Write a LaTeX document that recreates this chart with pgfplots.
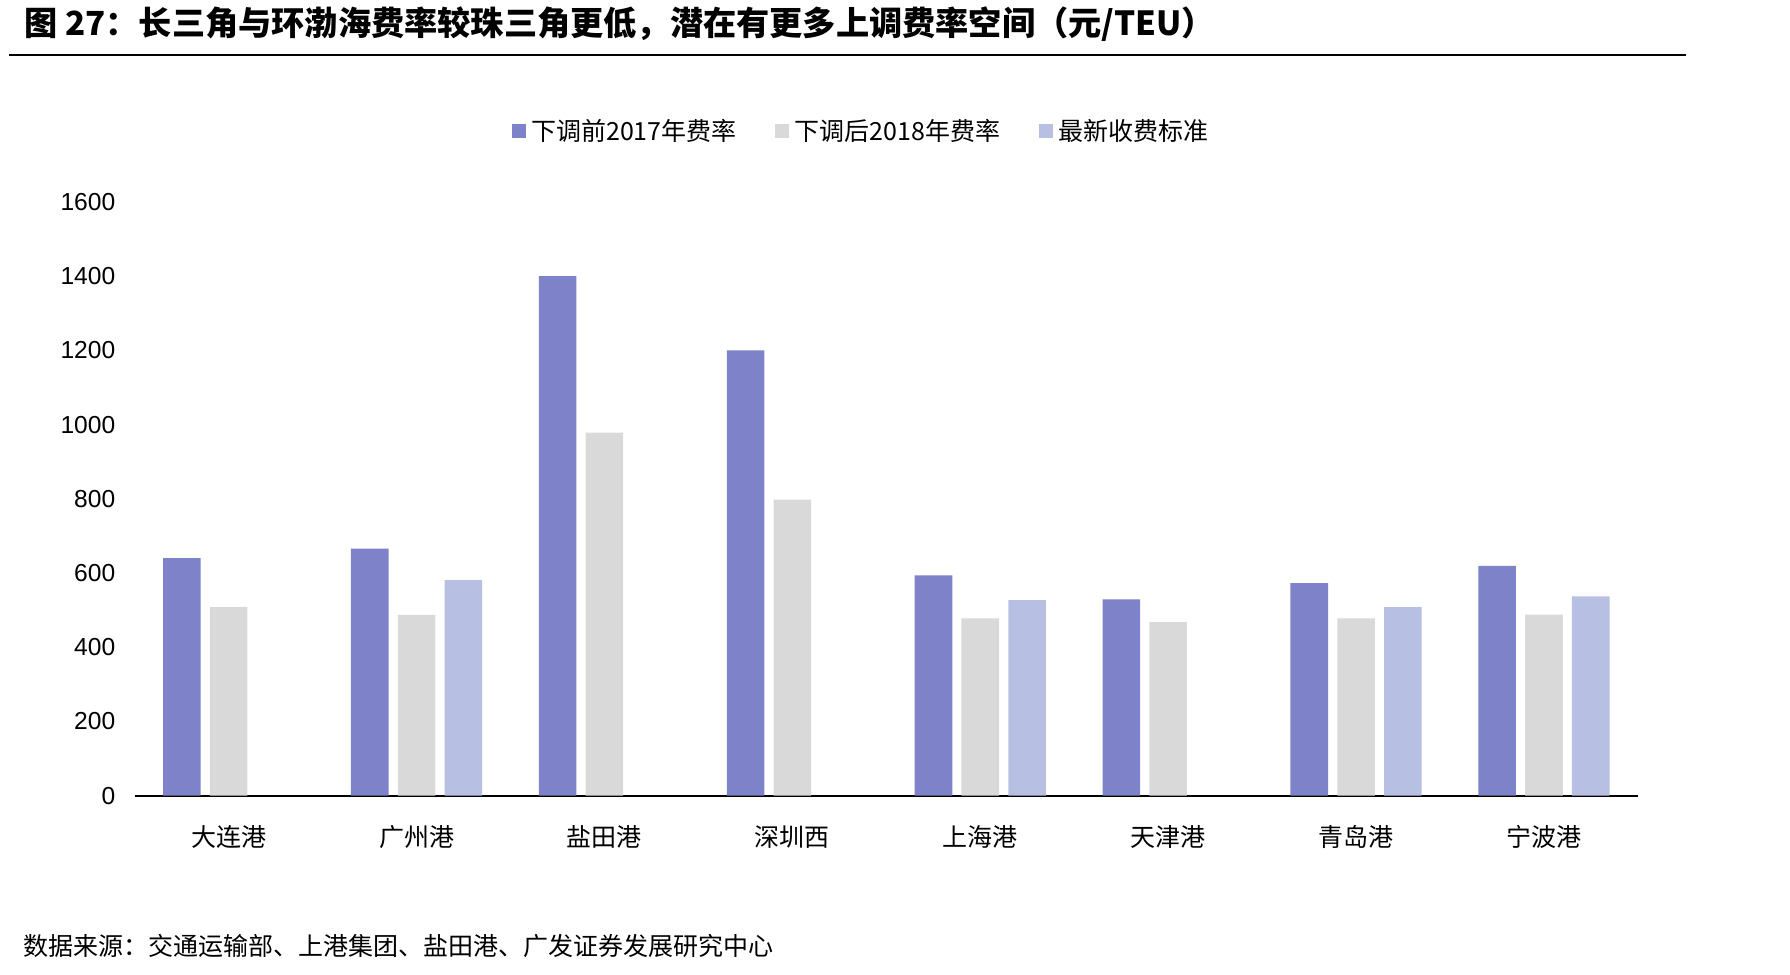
\documentclass[border=0pt]{standalone}
\usepackage{pgfplots}
\pgfplotsset{compat=1.18}
\usepackage{fontspec}
\setmainfont{Noto Sans CJK SC}
\newfontfamily\arial{Liberation Sans}
\definecolor{cA}{RGB}{126,130,200}
\definecolor{cB}{RGB}{217,217,217}
\definecolor{cC}{RGB}{183,191,227}
\begin{document}
\begin{tikzpicture}
\useasboundingbox (0,0) rectangle (895pt,-487.5pt);
\node[anchor=west, font=\fontsize{16.6pt}{19pt}\selectfont\bfseries, inner sep=0] at (12pt,-12pt) {图\ 27：长三角与环渤海费率较珠三角更低，潜在有更多上调费率空间（元/TEU）};
\draw[line width=1pt] (4.5pt,-27.5pt) -- (843pt,-27.5pt);
\begin{axis}[
  at={(67.35pt,-397.85pt)}, anchor=south west,
  scale only axis, width=751.6pt, height=296.9pt,
  xmin=-0.5, xmax=7.5, ymin=0, ymax=1600,
  xtick={0,...,7},
  xticklabels={大连港,广州港,盐田港,深圳西,上海港,天津港,青岛港,宁波港},
  ytick={0,200,...,1600},
  axis x line*=bottom, axis y line*=left,
  y axis line style={draw=none},
  x axis line style={line width=0.9pt, black},
  major tick length=0pt,
  /pgf/number format/assume math mode=true,
  /pgf/number format/1000 sep={},
  yticklabel style={font=\arial\fontsize{12.3pt}{14pt}\selectfont, anchor=east, xshift=-6.2pt},
  xticklabel style={font=\fontsize{12.5pt}{15pt}\selectfont, anchor=center, yshift=-20.6pt},
  legend columns=3,
  legend style={at={(0.4845,1.1194)}, anchor=center, draw=none, fill=none,
    font=\fontsize{12.5pt}{15pt}\selectfont,
    /tikz/every even column/.append style={column sep=16.6pt},
    nodes={inner xsep=2.8pt}},
  legend image code/.code={\fill[#1, draw=none] (0pt,-3.4pt) rectangle (6.9pt,3.4pt);},
  clip=false,
]
\addplot[ybar, bar width=0.2, bar shift=-0.249, fill=cA, draw=none] coordinates {(0,640)(1,666)(2,1400)(3,1200)(4,594)(5,529)(6,573)(7,619)};
\addlegendentry{下调前2017年费率}
\addplot[ybar, bar width=0.2, bar shift=0, fill=cB, draw=none] coordinates {(0,508)(1,487)(2,978)(3,798)(4,478)(5,468)(6,478)(7,488)};
\addlegendentry{下调后2018年费率}
\addplot[ybar, bar width=0.2, bar shift=0.249, fill=cC, draw=none] coordinates {(1,581)(4,527)(6,508)(7,537)};
\addlegendentry{最新收费标准}
\end{axis}
\node[anchor=west, font=\fontsize{12.5pt}{15pt}\selectfont, inner sep=0] at (11.5pt,-473pt) {数据来源：交通运输部、上港集团、盐田港、广发证券发展研究中心};
\end{tikzpicture}
\end{document}
